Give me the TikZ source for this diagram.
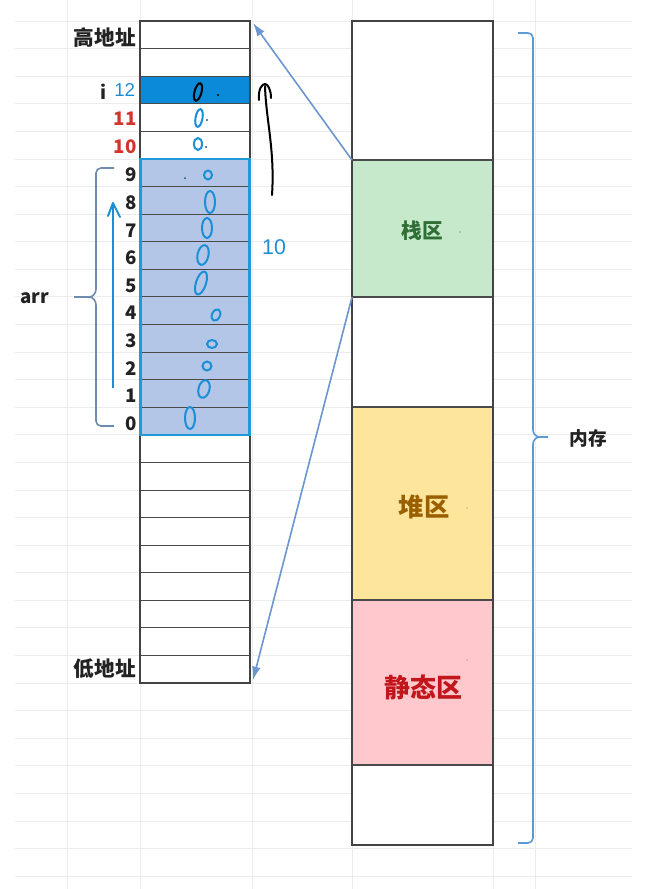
\documentclass[tikz,border=0pt]{standalone}
\usepackage{fontspec}
\setmainfont{Liberation Sans}
\newfontfamily\cjk{Noto Sans CJK SC}
\usetikzlibrary{arrows.meta}
\definecolor{gridc}{HTML}{ECECEC}
\definecolor{cellline}{HTML}{4A4A4A}
\definecolor{arrfill}{HTML}{B4C6E7}
\definecolor{arrborder}{HTML}{1E9BD7}
\definecolor{ifill}{HTML}{0B8AD9}
\definecolor{stackg}{HTML}{C6E9CC}
\definecolor{heapy}{HTML}{FDE69B}
\definecolor{staticp}{HTML}{FFC8CC}
\definecolor{stacktxt}{HTML}{2F6E35}
\definecolor{heaptxt}{HTML}{9A6000}
\definecolor{statictxt}{HTML}{C0161C}
\definecolor{rednum}{HTML}{D2352C}
\definecolor{linkc}{HTML}{6B96CF}
\definecolor{lbrace}{HTML}{6E8BB0}
\definecolor{rbrace}{HTML}{5B9BD5}
\definecolor{hwblue}{HTML}{1A8FD6}
\definecolor{txtc}{HTML}{222222}
\begin{document}
\begin{tikzpicture}[x=0.75pt,y=-0.75pt,
  grid/.style={draw=gridc,line width=0.6pt},
  colborder/.style={draw=cellline!90!black,line width=1.1pt},
  cellsep/.style={draw=cellline,line width=0.6pt},
  lbl/.style={inner sep=0pt,text=txtc,font=\cjk\bfseries\fontsize{15.5}{18}\selectfont},
  num/.style={inner sep=0pt,anchor=east,text=txtc,font=\cjk\bfseries\fontsize{14}{16}\selectfont},
  rnum/.style={num,text=rednum},
  hw/.style={draw=hwblue,line width=1.5pt},
  hwk/.style={draw=black,line width=1.5pt},
  hwtext/.style={inner sep=0pt,text=hwblue,font=\fontsize{14}{16}\selectfont},
  link/.style={draw=linkc,line width=1.2pt,-{Latex[length=10pt,width=6.5pt]}},
  region/.style={inner sep=0pt,font=\cjk\bfseries}
]
\useasboundingbox (0,0) rectangle (657,889);
\fill[white] (0,0) rectangle (657,889);
% spreadsheet grid
\foreach \k in {0,...,31} \draw[grid] (15,{21+\k*27.583}) -- (632,{21+\k*27.583});
\foreach \xx in {67,140,252,352,493,535} \draw[grid] (\xx,0) -- (\xx,889);

% ---------- left column ----------
\fill[white] (140,21) rectangle (250,683);
\fill[ifill] (140,76.17) rectangle (250,103.75);
\fill[arrfill] (140,158.9) rectangle (250,434.7);
\foreach \k in {1,...,23} \draw[cellsep] (140,{21+\k*27.583}) -- (250,{21+\k*27.583});
\draw[colborder] (140,21) rectangle (250,683);
\draw[draw=arrborder,line width=1.6pt] (140.5,158.9) rectangle (249.5,434.7);

\coordinate (colNE) at (253,23);
\coordinate (colSE) at (253,680);

% labels on left
\node[lbl,anchor=east] (hi) at (136,38) {高地址};
\node[lbl,anchor=east] (lo) at (136,669) {低地址};
\node[num] (ilbl) at (107,92) {i};
\node[hwtext,anchor=west] (twelve) at (114,90) {12};
\node[rnum] (n11) at (137,119) {11};
\node[rnum] (n10) at (137,147) {10};
\foreach \d [count=\r from 5] in {9,8,7,6,5,4,3,2,1,0}
  \node[num] (a\d) at (137,{21+\r*27.583+13.8+2.5}) {\d};
\node[num,anchor=center] (arr) at (35,298) {arr};

% left brace
\draw[draw=lbrace,line width=1.2pt] (114,168) -- (101,168) to[out=180,in=90] (96,173) -- (96,289)
  to[out=-90,in=0] (89,297) -- (74,297);
\draw[draw=lbrace,line width=1.2pt] (89,297) to[out=0,in=90] (96,305) -- (96,421)
  to[out=-90,in=180] (101,426) -- (114,426);
% blue upward arrow
\draw[hw] (113,388) -- (113,204);
\draw[hw,line cap=round,line join=round] (108,216) -- (113,203) -- (120,217);

% handwritten zeros
\draw[hwk,rotate around={-15:(198,92)}] (198,92) ellipse (3.5 and 9);
\fill[black] (218,95) circle (1.1);
\draw[hw,rotate around={-10:(199,118)}] (199,118) ellipse (3.5 and 9);
\fill[hwblue!70!black] (207,120) circle (1.1);
\draw[hw] (198,144) ellipse (4 and 6);
\fill[hwblue!70!black] (206,147) circle (1.1);
\draw[hw] (208,175) ellipse (4 and 4.5);
\fill[hwblue!60!black] (185,178) circle (1);
\draw[hw] (210,202) ellipse (5 and 11);
\draw[hw] (207,228) ellipse (5 and 10);
\draw[hw,rotate around={-12:(203,255)}] (203,255) ellipse (5.5 and 10);
\draw[hw,rotate around={-18:(201,283)}] (201,283) ellipse (5 and 12);
\draw[hw,rotate around={-25:(216,315)}] (216,315) ellipse (4 and 6);
\draw[hw] (212,344) ellipse (5 and 4);
\draw[hw] (207,366) ellipse (4.5 and 4.5);
\draw[hw,rotate around={-15:(204,389)}] (204,389) ellipse (5.5 and 9);
\draw[hw] (190,418) ellipse (5 and 11);

% handwritten black arrow
\draw[hwk,line cap=round] (272,195) .. controls (275,150) and (266,120) .. (265,86);
\draw[hwk,line cap=round,line join=round] (259,100) .. controls (258,89) and (262,84) .. (265,84) .. controls (268,84) and (271,90) .. (271,98);
\node[hwtext,font=\fontsize{16}{18}\selectfont] (ten) at (274,247) {10};

% ---------- right column ----------
\fill[white] (352,21) rectangle (493,845);
\fill[stackg] (352,160) rectangle (493,297);
\fill[heapy] (352,407) rectangle (493,600);
\fill[staticp] (352,600) rectangle (493,765);
\foreach \yy in {160,297,407,600,765} \draw[cellsep,line width=0.8pt] (352,\yy) -- (493,\yy);
\draw[colborder] (352,21) rectangle (493,845);
\coordinate (stackNW) at (352,160);
\coordinate (stackSW) at (352,297);

\node[region,text=stacktxt,font=\cjk\bfseries\fontsize{15.5}{18}\selectfont] (stack) at (422,231) {栈区};
\node[region,text=heaptxt,font=\cjk\bfseries\fontsize{19}{22}\selectfont] (heap) at (424,507) {堆区};
\node[region,text=statictxt,font=\cjk\bfseries\fontsize{19.5}{22}\selectfont] (static) at (423,687) {静态区};
\fill[stacktxt!60] (460,232) circle (0.8);
\fill[gray] (467,508) circle (0.7);
\fill[gray] (467,660) circle (0.7);

% connectors
\draw[link] (stackNW) -- (colNE);
\draw[link] (stackSW) -- (colSE);

% right brace
\draw[draw=rbrace,line width=1.2pt] (518,33) -- (528,33) to[out=0,in=90] (533,38) -- (533,430)
  to[out=-90,in=180] (540,437) -- (548,437);
\draw[draw=rbrace,line width=1.2pt] (540,437) to[out=180,in=90] (533,444) -- (533,838)
  to[out=-90,in=0] (528,843) -- (518,843);
\node[region,text=txtc,font=\cjk\bfseries\fontsize{14}{16}\selectfont] (mem) at (588,438) {内存};
\end{tikzpicture}
\end{document}
